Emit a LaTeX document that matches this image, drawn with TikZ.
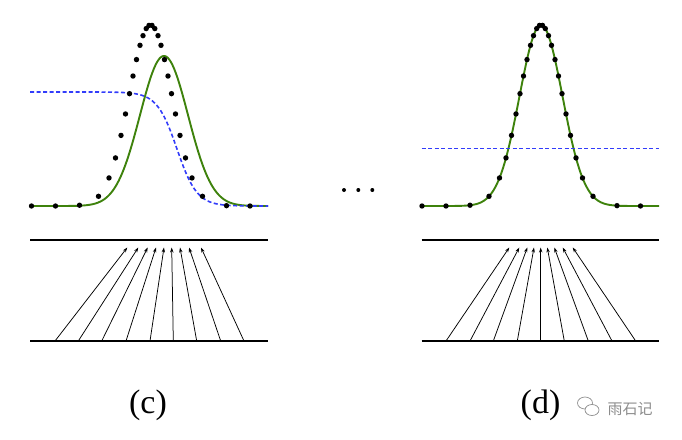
\documentclass[tikz,border=0pt]{standalone}
\usepackage{fontspec}
\setmainfont{Liberation Serif}
\newfontfamily\cjkfont{Noto Sans CJK SC}
\usetikzlibrary{arrows.meta}
\definecolor{fitgreen}{RGB}{62,130,12}
\definecolor{wblue}{RGB}{50,60,250}
\definecolor{wmgray}{RGB}{140,140,140}
\tikzset{
  rail/.style={line width=2pt, black},
  fitcurve/.style={line width=1.9pt, fitgreen},
  weight/.style={line width=1.6pt, wblue, dash pattern=on 4pt off 2.5pt},
  ray/.style={line width=0.75pt, black, -{Stealth[length=5pt,width=3.4pt]}},
  sample/.style={fill=black},
  lbl/.style={font=\fontsize{34}{37}\selectfont, anchor=base}
}
\begin{document}
\begin{tikzpicture}[x=1pt,y=-1pt]
\useasboundingbox (0,0) rectangle (682,439);

% ---------- panel (c) ----------
\draw[fitcurve] plot[domain=30:268,samples=240,smooth] (\x,{206-150*exp(-((\x-164)/10)^2/11.52)});
\draw[weight] plot[domain=30:268,samples=200,smooth] (\x,{92+114/(1+exp(max(-9,min(9,-(\x-177)/10))))});
\foreach \o in {-119,-95,-71,-52,-41.5,-35,-29.5,-25,-21,-17.5,-14,-10.5,-7.5,-4.3,-1.5,1.5,4.3,7.5,10.5,14,17.5,21,25,29.5,35,41.5,52,76,99.5}{
  \fill[sample] ({150.5+\o},{206-181*exp(-(\o/10)^2/9.24)}) circle (2.7);
}
\coordinate (cTL) at (30,240); \coordinate (cTR) at (268,240);
\coordinate (cBL) at (30,341); \coordinate (cBR) at (268,341);
\draw[rail] (cTL) -- (cTR);
\draw[rail] (cBL) -- (cBR);
\foreach \b/\t [count=\i] in {55/127.3,78.3/138.3,101.7/147.7,126/156,150/164,173.3/171.7,196.7/180,220.7/189,244/201}{
  \coordinate (cs\i) at (\b,341);
  \coordinate (ce\i) at (\t,247.5);
  \draw[ray] (cs\i) -- (ce\i);
}
\node[lbl] (labc) at (148,413) {(c)};

% ---------- dots between ----------
\foreach \x [count=\i] in {344,358.3,372.3}{
  \fill (\x,190) circle (2);
}

% ---------- panel (d) ----------
\draw[fitcurve] plot[domain=421.7:659,samples=240,smooth] (\x,{206-181*exp(-((\x-541)/10)^2/9.24)});
\coordinate (dWL) at (421.7,148.3); \coordinate (dWR) at (659,148.3);
\draw[weight] (dWL) -- (dWR);
\foreach \o in {-119,-95,-71,-52,-41.5,-35,-29.5,-25,-21,-17.5,-14,-10.5,-7.5,-4.3,-1.5,1.5,4.3,7.5,10.5,14,17.5,21,25,29.5,35,41.5,52,76,99.5}{
  \fill[sample] ({541+\o},{206-181*exp(-(\o/10)^2/9.24)}) circle (2.7);
}
\coordinate (dTL) at (421.7,240); \coordinate (dTR) at (659,240);
\coordinate (dBL) at (421.7,341); \coordinate (dBR) at (659,341);
\draw[rail] (dTL) -- (dTR);
\draw[rail] (dBL) -- (dBR);
\foreach \b/\t [count=\i] in {446/509.3,470/519.3,493.3/527.3,517.3/534,540.7/540.7,564.3/547.3,588.3/554.3,612/562.7,635.7/572.7}{
  \coordinate (ds\i) at (\b,341);
  \coordinate (de\i) at (\t,247.5);
  \draw[ray] (ds\i) -- (de\i);
}
\node[lbl] (labd) at (540.5,413) {(d)};

% ---------- watermark ----------
\draw[wmgray, line width=0.7pt] (585,403) ellipse (7.5 and 6);
\draw[wmgray, line width=0.7pt, fill=white] (592,410) ellipse (7 and 5.5);
\node[wmgray, font=\cjkfont\fontsize{15}{17}\selectfont] (wm) at (630,409) {雨石记};
\end{tikzpicture}
\end{document}
